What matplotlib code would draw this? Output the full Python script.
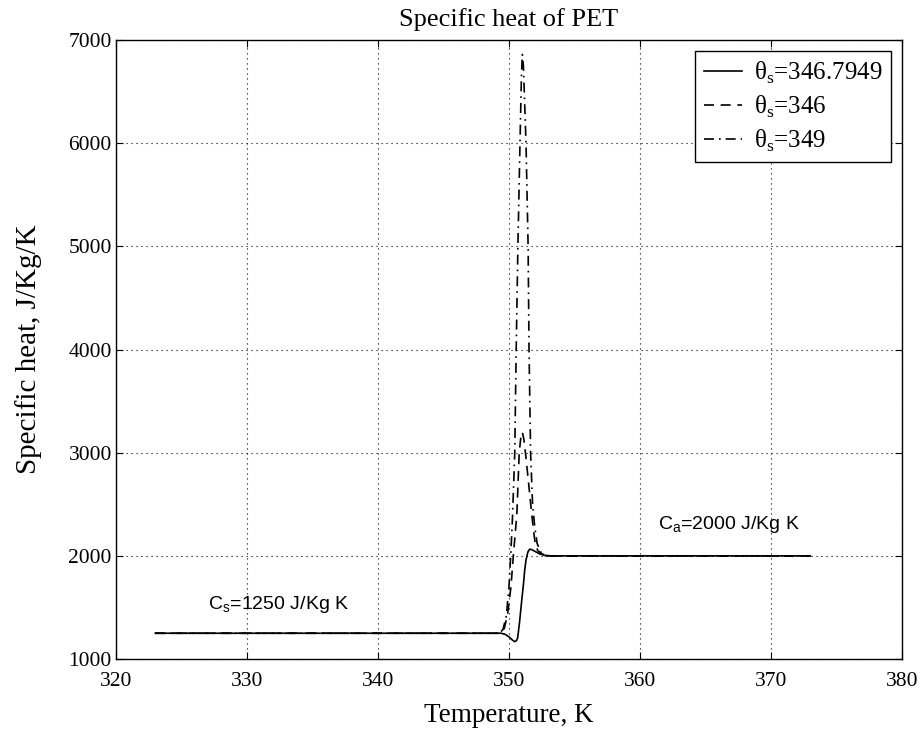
import numpy as np
import matplotlib
matplotlib.use("Agg")
import matplotlib.pyplot as plt

# values (temperature K, specific heat J/Kg/K)
T_a = [323, 349.4, 349.7, 350.0, 350.25, 350.44, 350.58, 350.66, 350.8, 350.95,
       351.1, 351.2, 351.3, 351.45, 351.58, 351.75, 351.96, 352.34, 352.85, 373]
C_a = [1250, 1250, 1240, 1215, 1185, 1168, 1180, 1204, 1350, 1540,
       1720, 1862, 1960, 2040, 2065, 2060, 2045, 2019, 2000, 2000]

T_b = [323, 349.4, 349.65, 349.9, 350.15, 350.35, 350.6, 350.78, 350.92, 351.02,
       351.15, 351.3, 351.5, 351.7, 351.85, 352.0, 352.2, 352.5, 353.0, 373]
C_b = [1250, 1250, 1300, 1440, 1700, 2030, 2400, 3000, 3170, 3200,
       3120, 2950, 2700, 2450, 2270, 2120, 2050, 2020, 2000, 2000]

T_c = [323, 349.3, 349.55, 349.8, 350.0, 350.15, 350.26, 350.44, 350.55, 350.68,
       350.84, 350.95, 351.02, 351.1, 351.3, 351.46, 351.53, 351.65, 351.8, 351.95,
       352.15, 352.4, 352.8, 353.2, 373]
C_c = [1250, 1250, 1290, 1420, 1700, 2050, 2350, 3000, 4000, 5000,
       6000, 6650, 6860, 6750, 6000, 5000, 4000, 3000, 2500, 2300,
       2120, 2040, 2005, 2000, 2000]

labels = ['θ$_\\mathregular{s}$=346.7949', 'θ$_\\mathregular{s}$=346', 'θ$_\\mathregular{s}$=349']
xticks = [320, 330, 340, 350, 360, 370, 380]
yticks = [1000, 2000, 3000, 4000, 5000, 6000, 7000]

serif = 'Liberation Serif'
sans = 'Liberation Sans'

fig = plt.figure(figsize=(9.24, 7.38), dpi=100)
ax = fig.add_axes([0.1255, 0.107, 0.8507, 0.8388])

ax.plot(T_a, C_a, color='k', lw=1.2, ls='-', label=labels[0])
ax.plot(T_b, C_b, color='k', lw=1.2, ls=(0, (6, 4)), label=labels[1])
ax.plot(T_c, C_c, color='k', lw=1.2, ls=(0, (6, 3, 1, 3)), label=labels[2])

ax.set_xlim(320, 380)
ax.set_ylim(1000, 7000)
ax.set_xticks(xticks)
ax.set_yticks(yticks)
ax.grid(True, color='k', ls=(0, (1, 3.5)), lw=0.8)
ax.tick_params(direction='in', top=True, right=True, length=5, labelsize=15.5)
ax.tick_params(axis='x', pad=9)
ax.tick_params(axis='y', pad=3)
for lab in ax.get_xticklabels() + ax.get_yticklabels():
    lab.set_family(serif)
for s in ax.spines.values():
    s.set_linewidth(1.0)

ax.set_title('Specific heat of PET', family=serif, fontsize=19, pad=10)
ax.set_xlabel('Temperature, K', family=serif, fontsize=19.5, labelpad=9)
ax.set_ylabel('Specific heat, J/Kg/K', family=serif, fontsize=21, labelpad=19)

ax.text(327.0, 1484, 'C$_\\mathregular{s}$=1250 J/Kg K', family=sans, fontsize=14)
ax.text(361.4, 2260, 'C$_\\mathregular{a}$=2000 J/Kg K', family=sans, fontsize=14)

leg = ax.legend(loc='upper right', prop={'family': serif, 'size': 18},
                fancybox=False, edgecolor='k', framealpha=1, handlelength=1.55,
                handletextpad=0.45, borderaxespad=0.45, labelspacing=0.3,
                borderpad=0.35)
leg.get_frame().set_linewidth(1.0)

fig.savefig('out.png', dpi=100)
